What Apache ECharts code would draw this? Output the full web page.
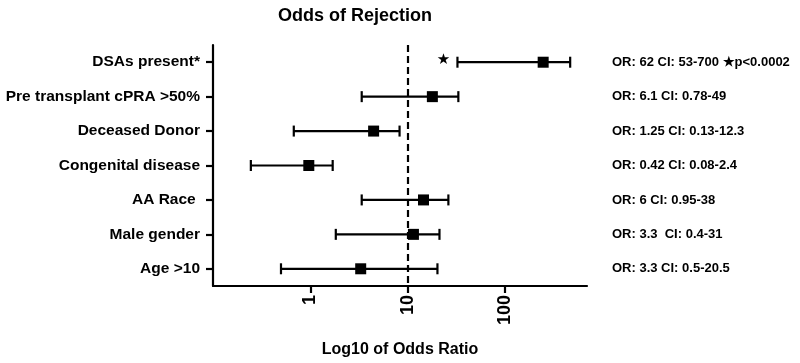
<!DOCTYPE html>
<html>
<head>
<meta charset="utf-8">
<script src="https://cdn.jsdelivr.net/npm/echarts@6/dist/echarts.min.js"></script>
<style>html,body{margin:0;padding:0;background:#fff}#c{width:800px;height:363px}</style>
</head>
<body>
<div id="c"></div>
<script>
// Data (top to bottom)
const categories = ['DSAs present*', 'Pre transplant cPRA >50%', 'Deceased Donor', 'Congenital disease', 'AA Race ', 'Male gender', 'Age >10'];
const estimate = [248, 18.0, 4.48, 0.966, 14.6, 11.5, 3.30];
const lower = [32.6, 3.38, 0.677, 0.245, 3.38, 1.83, 0.50];
const upper = [470, 33.3, 8.28, 1.70, 26.3, 21.3, 20.3];
const significant = [true, false, false, false, false, false, false];
const annotations = ['OR: 62 CI: 53-700 \u2605p<0.0002', 'OR: 6.1 CI: 0.78-49', 'OR: 1.25 CI: 0.13-12.3', 'OR: 0.42 CI: 0.08-2.4', 'OR: 6 CI: 0.95-38', 'OR: 3.3  CI: 0.4-31', 'OR: 3.3 CI: 0.5-20.5'];
const xTicks = [1, 10, 100];
const referenceValue = 10;

const FONT = '"Liberation Sans", Arial, Helvetica, sans-serif';
const seriesData = categories.map((c, i) => [i, lower[i], estimate[i], upper[i], significant[i] ? 1 : 0]);

const chart = echarts.init(document.getElementById('c'), null, {renderer: 'canvas'});
chart.setOption({
  animation: false,
  backgroundColor: '#fff',
  title: {
    text: 'Odds of Rejection', left: 350, top: 2, textAlign: 'center',
    textStyle: {fontFamily: FONT, fontSize: 18, fontWeight: 'bold', color: '#000'}
  },
  grid: {left: 213, right: 213, top: 45, bottom: 70, containLabel: false},
  xAxis: {
    type: 'log', logBase: 10, min: 0.1, max: 700,
    name: 'Log10 of Odds Ratio', nameLocation: 'middle', nameGap: 56,
    nameTextStyle: {fontFamily: FONT, fontSize: 16, fontWeight: 'bold', color: '#000'},
    axisLine: {show: true, onZero: false, lineStyle: {color: '#000', width: 2.2}},
    axisTick: {show: true, length: 7, lineStyle: {color: '#000', width: 2.2}, customValues: xTicks},
    axisLabel: {customValues: xTicks, rotate: 90, margin: 9, fontFamily: FONT, fontSize: 18, fontWeight: 'bold', color: '#000',
      formatter: v => String(v)},
    splitLine: {show: false}, minorTick: {show: false}
  },
  yAxis: [{
    type: 'category', data: categories, inverse: true,
    axisLine: {show: true, lineStyle: {color: '#000', width: 2.2}},
    axisTick: {show: true, alignWithLabel: true, length: 7, lineStyle: {color: '#000', width: 2.2}},
    axisLabel: {margin: 13, fontFamily: FONT, fontSize: 15.5, fontWeight: 'bold', color: '#000'},
    splitLine: {show: false}
  }, {
    type: 'category', data: annotations, inverse: true, position: 'right',
    axisLine: {show: false}, axisTick: {show: false},
    axisLabel: {margin: 25, align: 'left', padding: [0, 0, 8, 0], fontFamily: FONT, fontSize: 13, fontWeight: 'bold', color: '#000'},
    splitLine: {show: false}
  }],
  series: [{
    type: 'custom',
    data: seriesData,
    encode: {x: [1, 2, 3], y: 0},
    renderItem: function (params, api) {
      const yi = api.value(0);
      const pL = api.coord([api.value(1), yi]);
      const pE = api.coord([api.value(2), yi]);
      const pH = api.coord([api.value(3), yi]);
      const cap = 5.5, sq = 11;
      const st = {stroke: '#000', lineWidth: 2.2};
      const children = [
        {type: 'line', shape: {x1: pL[0], y1: pL[1], x2: pH[0], y2: pH[1]}, style: st},
        {type: 'line', shape: {x1: pL[0], y1: pL[1] - cap, x2: pL[0], y2: pL[1] + cap}, style: st},
        {type: 'line', shape: {x1: pH[0], y1: pH[1] - cap, x2: pH[0], y2: pH[1] + cap}, style: st},
        {type: 'rect', shape: {x: pE[0] - sq / 2, y: pE[1] - sq / 2, width: sq, height: sq}, style: {fill: '#000'}}
      ];
      if (api.value(4)) {
        children.push({type: 'text', style: {text: '\u2605', x: pL[0] - 14, y: pL[1] - 2, align: 'center', verticalAlign: 'middle',
          fontSize: 15, fontFamily: '"DejaVu Sans", sans-serif', fill: '#000'}});
      }
      return {type: 'group', children: children};
    },
    markLine: {
      silent: true, symbol: 'none', label: {show: false},
      lineStyle: {color: '#000', width: 2.2, type: [7, 4]},
      data: [{xAxis: referenceValue}]
    }
  }]
});
</script>
</body>
</html>
